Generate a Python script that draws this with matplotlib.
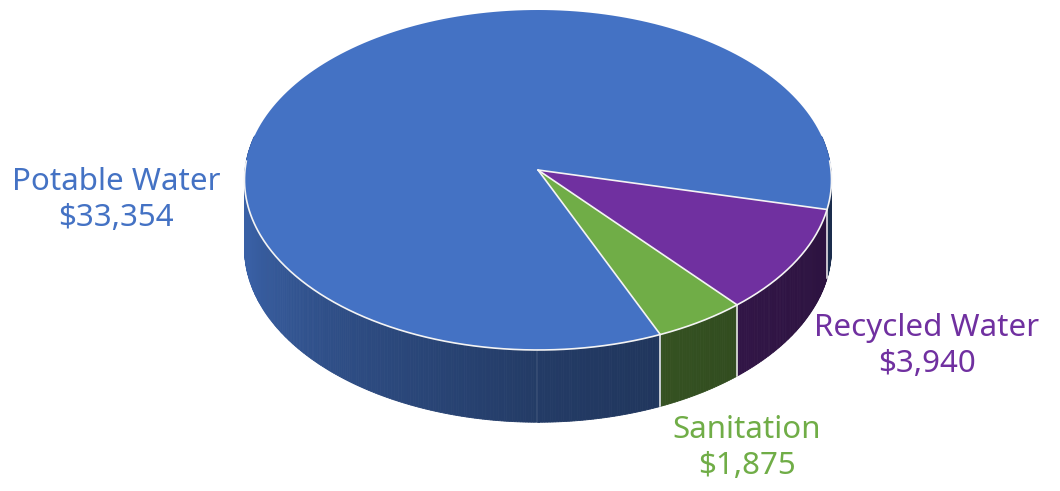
import numpy as np
import matplotlib
matplotlib.use('Agg')
from matplotlib import pyplot as plt
from matplotlib.patches import Polygon

# slices, in clockwise order from the right-hand cut
categories = ['Recycled Water', 'Sanitation', 'Potable Water']
values = [3940, 1875, 33354]
value_labels = ['$3,940', '$1,875', '$33,354']
top_colors = ['#7030a0', '#70ad47', '#4472c4']

# disc projection (pixels), slight perspective so the front looks bigger
cx, cy = 538, 170
A, B, k = 293, 169.4, 0.0588
depth = 68
start = -13.3


def project(t, z=0.0):
    x, y = np.cos(t), np.sin(t)
    w = 1 + k * y
    return cx + A * x / w, cy - B * y / w + depth * z / w


def shade(deg):
    d = deg % 360
    return np.interp(d, [160, 195, 230, 270, 310, 360, 380],
                     [0.85, 0.84, 0.68, 0.52, 0.44, 0.38, 0.38])


fig = plt.figure(figsize=(10.6, 4.91), dpi=100)
ax = fig.add_axes([0, 0, 1, 1])
ax.set_xlim(0, 1060)
ax.set_ylim(491, 0)
ax.axis('off')

fracs = np.array(values) / np.sum(values)
edges = start - np.concatenate([[0], np.cumsum(fracs)]) * 360

# side wall, built from thin strips so the shading can vary
strips = []
for i in range(len(values)):
    a0, a1 = edges[i], edges[i + 1]
    n = max(int(abs(a0 - a1) / 0.5), 1)
    ts = np.linspace(a0, a1, n + 1)
    base = np.array(matplotlib.colors.to_rgb(top_colors[i]))
    for t0, t1 in zip(ts[:-1], ts[1:]):
        tm = 0.5 * (t0 + t1)
        if np.sin(np.radians(tm)) > 0.2:
            continue
        r0, r1 = np.radians(t0), np.radians(t1)
        pts = [project(r0), project(r1), project(r1, 1), project(r0, 1)]
        col = np.clip(base * shade(tm), 0, 1)
        strips.append((-np.sin(np.radians(tm)), pts, col))
for _, pts, col in sorted(strips, key=lambda s: s[0]):
    ax.add_patch(Polygon(pts, closed=True, facecolor=col, edgecolor=col, lw=0.6))

# top face
for i in range(len(values)):
    ts = np.radians(np.linspace(edges[i], edges[i + 1], 200))
    xs, ys = project(ts)
    pts = [(cx, cy)] + list(zip(xs, ys))
    ax.add_patch(Polygon(pts, closed=True, facecolor=top_colors[i],
                         edgecolor='none'))

# white edges: radial cuts, front rim and vertical seams
for e in edges[:-1]:
    r = np.radians(e)
    x1, y1 = project(r)
    ax.plot([cx, x1], [cy, y1], color='#f4f4f4', lw=1.2, solid_capstyle='round')
    if np.sin(r) < 0:
        x2, y2 = project(r, 1)
        ax.plot([x1, x2], [y1, y2], color='#f4f4f4', lw=1.1)
rim = np.radians(np.linspace(-183, 3, 400))
xs, ys = project(rim)
ax.plot(xs, ys, color='#f4f4f4', lw=1.2)

# labels
label_pos = [(927, 346), (747, 448), (116, 200)]
label_colors = ['#7030a0', '#70ad47', '#4472c4']
for name, val, (lx, ly), c in zip(categories, value_labels, label_pos, label_colors):
    ax.text(lx, ly, name + '\n' + val.replace('$', r'\$'), color=c,
            fontsize=22.5, family='Noto Sans', ha='center', va='center',
            linespacing=1.25)

fig.savefig('out.png', dpi=100)
